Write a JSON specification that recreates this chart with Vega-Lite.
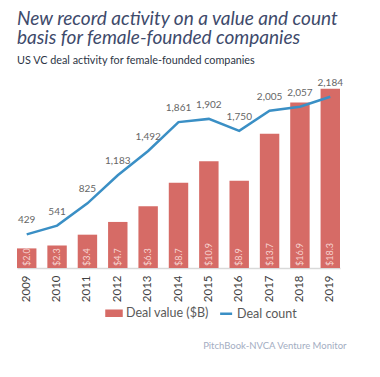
{
  "$schema": "https://vega.github.io/schema/vega-lite/v6.json",
  "width": 323,
  "height": 196,
  "autosize": {"type": "none"},
  "padding": {"left": 17, "top": 72, "right": 40, "bottom": 109},
  "title": {
    "text": ["New record activity on a value and count", "basis for female-founded companies"],
    "subtitle": "US VC deal activity for female-founded companies",
    "anchor": "start",
    "font": "Lato",
    "fontSize": 19,
    "fontStyle": "italic",
    "fontWeight": 400,
    "color": "#3e4a6b",
    "lineHeight": 19,
    "subtitleFont": "Lato",
    "subtitleFontSize": 10.8,
    "subtitleFontWeight": 400,
    "subtitleColor": "#2c3545",
    "subtitlePadding": 7,
    "offset": 6
  },
  "data": {
    "values": [
      {"year": "2009", "value": 2.0, "count": 429},
      {"year": "2010", "value": 2.3, "count": 541},
      {"year": "2011", "value": 3.4, "count": 825},
      {"year": "2012", "value": 4.7, "count": 1183},
      {"year": "2013", "value": 6.3, "count": 1492},
      {"year": "2014", "value": 8.7, "count": 1861},
      {"year": "2015", "value": 10.9, "count": 1902},
      {"year": "2016", "value": 8.9, "count": 1750},
      {"year": "2017", "value": 13.7, "count": 2005},
      {"year": "2018", "value": 16.9, "count": 2057},
      {"year": "2019", "value": 18.3, "count": 2184}
    ]
  },
  "encoding": {
    "x": {
      "field": "year",
      "type": "ordinal",
      "scale": {"paddingInner": 0.36, "paddingOuter": 0},
      "axis": {
        "title": "PitchBook-NVCA Venture Monitor",
        "titleFont": "Lato",
        "titleFontSize": 9.5,
        "titleFontWeight": "normal",
        "titleColor": "#a3adc2",
        "titleAlign": "right",
        "titleAnchor": "end",
        "titleBaseline": "alphabetic",
        "titleX": 329,
        "titleY": 80,
        "labelAngle": 270,
        "labelAlign": "right",
        "labelBaseline": "middle",
        "labelFont": "Lato",
        "labelFontSize": 11.5,
        "labelColor": "#404040",
        "labelPadding": 7,
        "ticks": false,
        "domainColor": "#d9d9d9",
        "domainWidth": 1.5,
        "grid": false
      }
    }
  },
  "layer": [
    {
      "layer": [
        {
          "mark": {"type": "bar"},
          "encoding": {
            "y": {"field": "value", "type": "quantitative", "scale": {"domain": [0, 20], "nice": false}, "axis": null},
            "color": {
              "datum": "Deal value ($B)",
              "scale": {"domain": ["Deal value ($B)", "Deal count"], "range": ["#d66b66", "#3a8fc5"]},
              "legend": {
                "orient": "none",
                "legendX": 88,
                "legendY": 232,
                "direction": "horizontal",
                "title": null,
                "labelFont": "Lato",
                "labelFontSize": 12.5,
                "labelColor": "#595959",
                "labelOffset": 3,
                "columnPadding": 6,
                "symbolSize": 225,
                "encode": {
                  "symbols": {
                    "update": {
                      "shape": {"signal": "datum.value === 'Deal count' ? 'M-0.65,0H0.95' : 'M-1,-0.33H1V0.33H-1Z'"},
                      "fill": {"signal": "datum.value === 'Deal count' ? 'transparent' : '#d66b66'"},
                      "stroke": {"signal": "datum.value === 'Deal count' ? '#3a8fc5' : 'transparent'"},
                      "strokeWidth": {"value": 2.5},
                      "opacity": {"value": 1}
                    }
                  }
                }
              }
            }
          }
        },
        {
          "mark": {"type": "text", "angle": 270, "align": "left", "baseline": "middle", "dx": 2, "font": "Lato", "fontSize": 9, "color": "#f6d4d1"},
          "encoding": {
            "y": {"datum": 0, "type": "quantitative"},
            "text": {"field": "value", "type": "quantitative", "format": "$.1f"}
          }
        }
      ]
    },
    {
      "layer": [
        {
          "mark": {"type": "line", "strokeWidth": 2.5},
          "encoding": {
            "y": {"field": "count", "type": "quantitative", "scale": {"domain": [0, 2500], "nice": false}, "axis": null},
            "color": {"datum": "Deal count"}
          }
        },
        {
          "mark": {"type": "text", "baseline": "alphabetic", "dy": -11, "font": "Lato", "fontSize": 10, "color": "#666666"},
          "encoding": {
            "y": {"field": "count", "type": "quantitative", "scale": {"domain": [0, 2500], "nice": false}},
            "text": {"field": "count", "type": "quantitative", "format": ","}
          }
        }
      ]
    }
  ],
  "resolve": {"scale": {"y": "independent"}},
  "config": {
    "view": {"stroke": null},
    "font": "Lato"
  }
}
